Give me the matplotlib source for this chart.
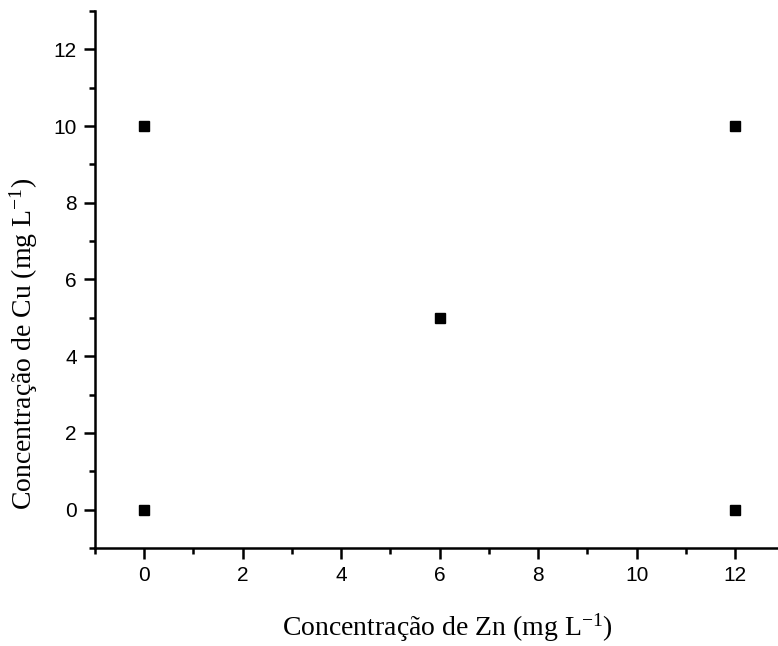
import matplotlib
matplotlib.use('Agg')
import matplotlib.pyplot as plt
from matplotlib.ticker import MultipleLocator

# design points: Zn vs Cu concentration (mg/L)
zn = [0, 0, 12, 12, 6]
cu = [0, 10, 0, 10, 5]

plt.rcParams['mathtext.fontset'] = 'custom'
plt.rcParams['mathtext.rm'] = 'Liberation Serif'
plt.rcParams['mathtext.it'] = 'Liberation Serif'

fig = plt.figure(figsize=(7.78, 6.46), dpi=100)
ax = fig.add_axes([0.1221, 0.1517, 0.886, 0.8313])

ax.plot(zn, cu, 's', color='black', markersize=7.5, linestyle='none')

ax.set_xlim(-1, 13)
ax.set_ylim(-1, 13)
ax.xaxis.set_major_locator(MultipleLocator(2))
ax.xaxis.set_minor_locator(MultipleLocator(1))
ax.yaxis.set_major_locator(MultipleLocator(2))
ax.yaxis.set_minor_locator(MultipleLocator(1))

for side in ['top', 'right']:
    ax.spines[side].set_visible(False)
for side in ['left', 'bottom']:
    ax.spines[side].set_linewidth(1.8)

ax.tick_params(which='major', direction='out', length=8, width=1.8,
               labelsize=15, pad=5)
ax.tick_params(which='minor', direction='out', length=4.5, width=1.8)
for lbl in ax.get_xticklabels() + ax.get_yticklabels():
    lbl.set_fontfamily('Liberation Sans')

ax.set_xlabel('Concentração de Zn (mg L$^{-1}$)', fontfamily='Liberation Serif',
              fontsize=20)
ax.set_ylabel('Concentração de Cu (mg L$^{-1}$)', fontfamily='Liberation Serif',
              fontsize=20)
ax.xaxis.set_label_coords(0.511, -0.119)
ax.yaxis.set_label_coords(-0.080, 0.38)

fig.savefig('out.png', dpi=100)
